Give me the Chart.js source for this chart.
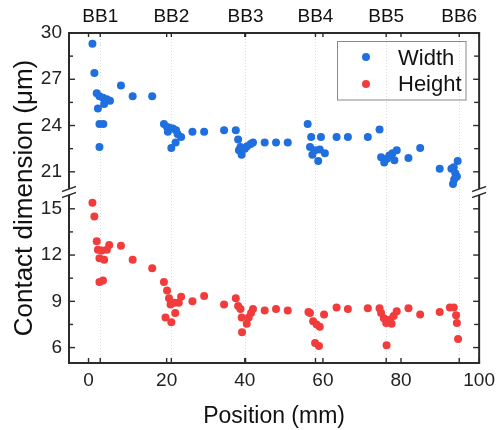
<!DOCTYPE html>
<html>
<head>
<meta charset="utf-8">
<script src="https://cdn.jsdelivr.net/npm/chart.js@4/dist/chart.umd.min.js"></script>
<style>
  html, body { margin: 0; padding: 0; background: #fff; }
  #wrap { width: 501px; height: 430px; }
</style>
</head>
<body>
<div id="wrap"><canvas id="contactChart" width="501" height="430"></canvas></div>
<script>
// Width (um) vs position (mm)
const widthPos = [1.0, 1.5, 2.1, 2.8, 3.7, 4.7, 5.5, 4.0, 2.4, 2.8, 3.8, 2.8, 8.3, 11.3, 16.3,
    19.3, 20.1, 20.7, 21.6, 22.4, 20.3, 22.8, 23.7, 22.3, 21.2, 26.6, 29.6, 34.7, 37.7,
    38.3, 38.9, 38.5, 39.2, 40.0, 40.6, 41.5, 42.1, 45.1, 48.0, 51.0,
    56.1, 57.0, 59.5, 56.7, 58.0, 59.2, 60.5, 57.3, 58.8, 63.5, 66.4, 71.5, 74.5,
    74.9, 75.7, 76.4, 77.0, 77.8, 78.9, 78.3, 81.9, 84.9, 89.9,
    92.9, 93.5, 94.5, 93.9, 94.3, 93.6, 93.3];
const widthVal = [29.3, 27.4, 26.1, 25.9, 25.8, 25.7, 25.6, 25.4, 25.1, 24.1, 24.1, 22.6, 26.6, 25.9, 25.9,
    24.1, 23.9, 23.85, 23.8, 23.7, 23.6, 23.45, 23.25, 22.9, 22.55, 23.6, 23.6, 23.7, 23.7,
    23.1, 22.6, 22.4, 22.1, 22.5, 22.65, 22.8, 22.9, 22.9, 22.9, 22.9,
    24.1, 23.25, 23.25, 22.6, 22.4, 22.45, 22.2, 22.1, 21.7, 23.25, 23.25, 23.25, 23.75,
    21.95, 21.6, 21.85, 22.05, 22.2, 22.4, 21.75, 21.9, 22.55, 21.2,
    21.2, 21.3, 21.7, 20.9, 20.7, 20.5, 20.2];

// Height (um) vs position (mm)
const heightPos = [1.0, 1.5, 2.1, 2.4, 3.4, 2.8, 4.0, 4.7, 5.3, 2.8, 3.7, 8.3, 11.3, 16.3,
    19.3, 20.1, 20.6, 21.0, 22.0, 23.1, 23.7, 19.7, 21.2, 22.2, 26.6, 29.6, 34.7, 37.7,
    38.3, 38.9, 39.2, 40.5, 41.0, 41.6, 42.1, 39.3, 45.1, 48.0, 51.0,
    56.3, 56.7, 57.5, 58.4, 59.2, 60.3, 58.0, 59.0, 63.5, 66.4, 71.5, 74.5,
    74.9, 75.6, 76.2, 77.0, 77.6, 78.1, 78.9, 76.3, 81.9, 84.9, 89.9,
    92.5, 93.5, 94.1, 94.3, 94.6];
const heightVal = [15.4, 14.5, 12.9, 12.35, 12.3, 11.8, 11.7, 12.35, 12.65, 10.25, 10.35, 12.6, 11.7, 11.15,
    10.25, 9.7, 9.2, 8.8, 8.9, 8.9, 9.3, 7.95, 7.65, 8.25, 9.0, 9.35, 8.8, 9.2,
    8.7, 8.5, 7.95, 7.55, 7.95, 8.25, 8.5, 7.0, 8.4, 8.5, 8.4,
    8.3, 8.25, 7.7, 7.5, 7.35, 8.15, 6.3, 6.1, 8.6, 8.5, 8.55, 8.55,
    8.25, 7.9, 7.6, 7.8, 7.55, 8.05, 8.35, 6.15, 8.55, 8.15, 8.3,
    8.6, 8.6, 8.1, 7.6, 6.55];

// axes
const xTicks = [0, 20, 40, 60, 80, 100];
const bbPos = [3.0, 21.2, 40.2, 58.1, 76.2, 94.9];
const bbLabels = ["BB1", "BB2", "BB3", "BB4", "BB5", "BB6"];
const topTicks = [21, 24, 27, 30];
const bottomTicks = [6, 9, 12, 15];

const blue = "#1f6fdf";
const red = "#f23c3c";
const ink = "#222";
const frameColor = "#2b2b2b";
const fontFamily = "'Liberation Sans', Arial, sans-serif";

Chart.defaults.font.family = fontFamily;
Chart.defaults.color = ink;

function setTicks(values) {
    return s => { s.ticks = values.map(v => ({ value: v })); };
}

function fillPath(ctx, pts) {
    ctx.beginPath();
    ctx.moveTo(pts[0][0], pts[0][1]);
    pts.slice(1).forEach(p => ctx.lineTo(p[0], p[1]));
    ctx.closePath();
    ctx.fill();
}

// frame with inward ticks, axis break marks, titles and legend
const framePlugin = {
    id: "frame",
    afterDraw(chart) {
        const { ctx, scales } = chart;
        const left = scales.yTop.right, right = scales.x.right;
        const top = scales.yTop.top, bottom = scales.yBot.bottom;
        const hbar = (x1, x2, y, w) => { ctx.fillRect(Math.min(x1, x2), y - w / 2, Math.abs(x2 - x1), w); };
        const vbar = (x, y1, y2, w) => { ctx.fillRect(x - w / 2, Math.min(y1, y2), w, Math.abs(y2 - y1)); };
        ctx.save();
        ctx.fillStyle = frameColor;
        hbar(left - 1, right + 1, top, 2);
        hbar(left - 1, right + 1, bottom, 2);
        vbar(left, top, bottom, 2);
        vbar(right, top, bottom, 2);

        [[scales.yTop, topTicks], [scales.yBot, bottomTicks]].forEach(([s, t]) => {
            t.forEach((v, i) => {
                const y = s.getPixelForValue(v);
                hbar(left, left + 6, y, 1.4);
                hbar(right, right - 6, y, 1.4);
                if (i > 0) {
                    const m = s.getPixelForValue(v - 1.5);
                    hbar(left, left + 4, m, 1.4);
                    hbar(right, right - 5, m, 1.4);
                }
            });
        });
        const xs = scales.x;
        xTicks.concat(bbPos).forEach(v => {
            const x = xs.getPixelForValue(v);
            vbar(x, bottom, bottom - 5, 1.4);
            vbar(x, top, top + 4, 1.4);
        });

        // axis break
        const yb = scales.yTop.bottom;
        [left, right].forEach(x => {
            ctx.fillStyle = "#fff";
            ctx.fillRect(x - 2, yb - 3, 4, 6);
            ctx.fillStyle = frameColor;
            fillPath(ctx, [[x - 7, yb - 1.1], [x + 7, yb - 6.1], [x + 7, yb - 4.6], [x - 7, yb + 0.4]]);
            fillPath(ctx, [[x - 7, yb + 4.9], [x + 7, yb - 0.1], [x + 7, yb + 1.4], [x - 7, yb + 6.4]]);
        });

        // titles
        ctx.fillStyle = "#111";
        ctx.font = "23px " + fontFamily;
        ctx.textAlign = "center";
        ctx.textBaseline = "alphabetic";
        ctx.fillText("Position (mm)", (left + right) / 2, 423);
        ctx.save();
        ctx.translate(32, 198);
        ctx.rotate(-Math.PI / 2);
        ctx.font = "26px " + fontFamily;
        ctx.fillText("Contact dimension (\u03bcm)", 0, 0);
        ctx.restore();

        // legend
        ctx.lineWidth = 1;
        ctx.strokeStyle = "#888";
        ctx.strokeRect(337.5, 41.5, 128.5, 58.5);
        [["Width", blue, 57, 65], ["Height", red, 84, 91]].forEach(([txt, c, cy, by]) => {
            ctx.fillStyle = c;
            ctx.beginPath(); ctx.arc(366, cy, 4, 0, Math.PI * 2); ctx.fill();
            ctx.fillStyle = "#111";
            ctx.font = "22px " + fontFamily;
            ctx.textAlign = "left";
            ctx.fillText(txt, 398, by);
        });
        ctx.restore();
    }
};

const ctx = document.getElementById("contactChart").getContext("2d");
new Chart(ctx, {
    type: "scatter",
    data: {
        datasets: [{
            label: "Width",
            data: widthPos.map((x, i) => ({ x: x, y: widthVal[i] })),
            yAxisID: "yTop",
            backgroundColor: blue,
            borderColor: blue,
            pointRadius: 4,
            borderWidth: 0
        }, {
            label: "Height",
            data: heightPos.map((x, i) => ({ x: x, y: heightVal[i] })),
            yAxisID: "yBot",
            backgroundColor: red,
            borderColor: red,
            pointRadius: 4,
            borderWidth: 0
        }]
    },
    options: {
        responsive: false,
        animation: false,
        layout: { padding: { left: 0, right: 18, top: 0, bottom: 0 } },
        plugins: { legend: { display: false }, tooltip: { enabled: false } },
        scales: {
            x: {
                type: "linear", position: "bottom", min: -5, max: 100,
                afterBuildTicks: setTicks(xTicks),
                afterFit: s => { s.height = 67; },
                grid: { display: false, drawTicks: false },
                border: { display: false },
                ticks: { padding: 6, font: { size: 19 }, color: ink }
            },
            x2: {
                type: "linear", position: "top", min: -5, max: 100,
                afterBuildTicks: setTicks(bbPos),
                afterFit: s => { s.height = 33; },
                grid: { display: true, drawTicks: false, color: "#d9d9d9", lineWidth: 1 },
                border: { display: false, dash: [1, 2] },
                ticks: { padding: 5, font: { size: 19 }, color: "#111", callback: (v, i) => bbLabels[i] }
            },
            // left boxes are stacked in reverse order, so the lower segment comes first
            yBot: {
                type: "linear", position: "left", stack: "y", stackWeight: 11.1,
                min: 5, max: 16.1,
                afterBuildTicks: setTicks(bottomTicks),
                afterFit: s => { s.width = 69; },
                grid: { display: false, drawTicks: false },
                border: { display: false },
                ticks: { padding: 7, font: { size: 19 }, color: ink }
            },
            yTop: {
                type: "linear", position: "left", stack: "y", stackWeight: 10.3,
                min: 19.7, max: 30,
                afterBuildTicks: setTicks(topTicks),
                afterFit: s => { s.width = 69; },
                grid: { display: false, drawTicks: false },
                border: { display: false },
                ticks: { padding: 7, font: { size: 19 }, color: ink }
            }
        }
    },
    plugins: [framePlugin]
});
</script>
</body>
</html>
